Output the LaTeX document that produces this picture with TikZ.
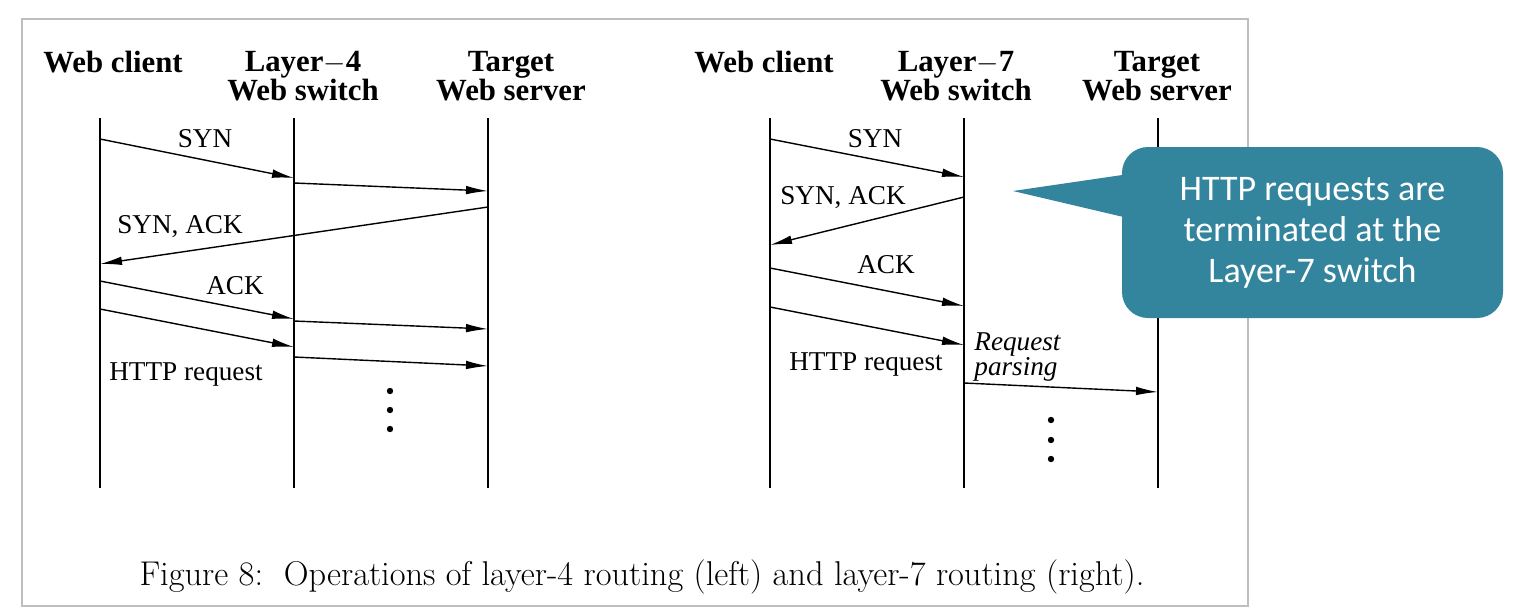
\documentclass[tikz,border=0pt]{standalone}
\usepackage{fontspec}
\newfontfamily\figfont{Liberation Serif}
\newfontfamily\notefont{Carlito}
\usetikzlibrary{arrows.meta}
\definecolor{noteteal}{RGB}{50,133,156}
\definecolor{framegray}{RGB}{190,190,190}

\begin{document}
\begin{tikzpicture}[x=0.5pt,y=-0.5pt]
        \tikzstyle{every node}=[font=\figfont\fontsize{13.6}{15}\selectfont, inner sep=0pt]
        \tikzstyle{header}=[font=\figfont\bfseries\fontsize{15.4}{14.5}\selectfont, align=center]
        \tikzstyle{lifeline}=[line width=0.65pt]
        \tikzstyle{msg}=[line width=0.7pt, -{Latex[length=11pt,width=4.3pt]}]
        \tikzstyle{dot}=[fill, circle, minimum size=3.2pt]
        \tikzstyle{note}=[fill=noteteal, text=white, rounded corners=13pt, align=center,
            minimum width=190.5pt, minimum height=85.5pt,
            font=\notefont\fontsize{18}{20.5}\selectfont]

        \useasboundingbox (0,0) rectangle (1516,616);
        \draw[framegray, line width=1pt] (22,19) rectangle (1248,606);

        \node[header] (client4) at (113,62) {Web client};
        \node[header] (switch4) at (303,76) {Layer$-$4\\Web switch};
        \node[header] (server4) at (511,76) {Target\\Web server};
        \node[header] (client7) at (764,62) {Web client};
        \node[header] (switch7) at (956,76) {Layer$-$7\\Web switch};
        \node[header] (server7) at (1157,76) {Target\\Web server};

        \foreach \n/\x in {c4/100, s4/294, w4/488, c7/770, s7/964, w7/1158} {
            \coordinate (\n top) at (\x,118);
            \coordinate (\n bot) at (\x,488);
            \draw[lifeline] (\n top) -- (\n bot);
        }

        \foreach \n/\x/\y in {a1/100/139, b1/294/178, a2/294/183, b2/488/191,
                              a3/488/207, b3/100/264, a4/100/281, b4/294/319,
                              a5/294/321, b5/488/329, a6/100/309, b6/294/347,
                              a7/294/357, b7/488/366,
                              p1/770/139, q1/964/177, p2/964/197, q2/770/245,
                              p3/770/268, q3/964/306, p4/770/307, q4/964/345,
                              p5/964/383, q5/1158/392}
            \coordinate (\n) at (\x,\y);

        \foreach \i in {1,...,7}
            \draw[msg] (a\i) -- (b\i);
        \foreach \i in {1,...,5}
            \draw[msg] (p\i) -- (q\i);

        \node (syn4) at (205,139) {SYN};
        \node (synack4) at (180,227) {SYN, ACK};
        \node (ack4) at (235,286) {ACK};
        \node (http4) at (186,374) {HTTP request};
        \node (syn7) at (875,139) {SYN};
        \node (synack7) at (843,198) {SYN, ACK};
        \node (ack7) at (886,265) {ACK};
        \node (http7) at (866,364) {HTTP request};
        \node[anchor=west, align=left, font=\figfont\itshape\fontsize{13.6}{11.5}\selectfont]
            (parse7) at (974,357) {Request\\parsing};

        \foreach \y in {391,410,429}
            \node[dot] (more4-\y) at (390,\y) {};
        \foreach \y in {420,440,459}
            \node[dot] (more7-\y) at (1051,\y) {};

        \node[font=\fontsize{17.2}{20}\selectfont] (caption) at (642,577)
            {Figure 8:\ \ Operations of layer-4 routing (left) and layer-7 routing (right).};

        \node[note] (note) at (1312.5,232.5) {HTTP requests are\\terminated at the\\Layer-7 switch};
        \coordinate (tip) at (1013,191);
        \fill[noteteal] (tip) -- ([shift={(4,-58)}]note.west) -- ([shift={(4,-15)}]note.west) -- cycle;

    \end{tikzpicture}
\end{document}
